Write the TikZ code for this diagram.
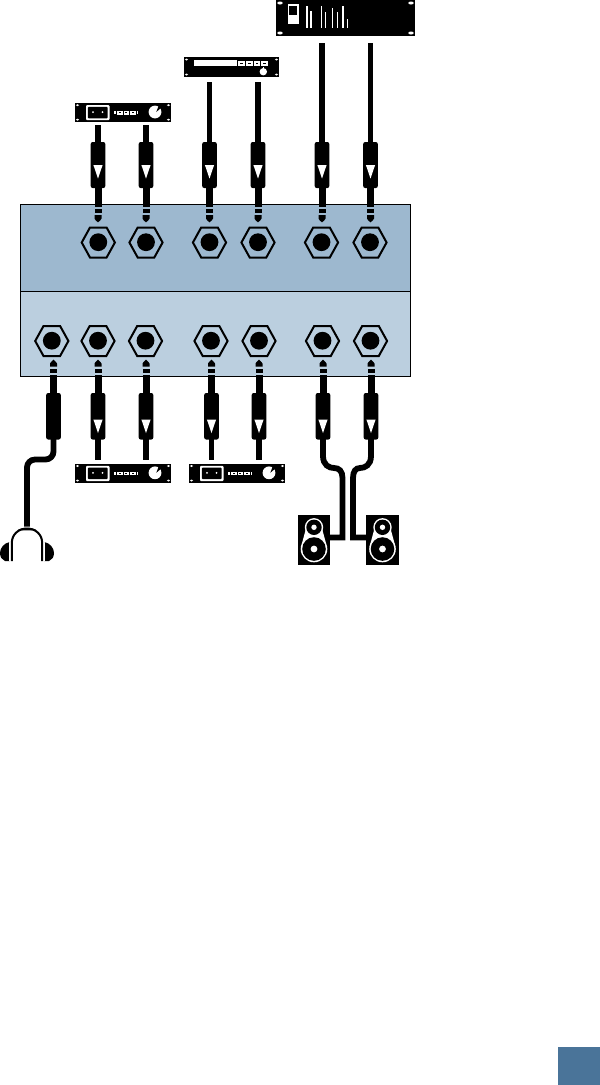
\documentclass[tikz,border=0pt]{standalone}
\definecolor{paneltop}{HTML}{9DB8CF}
\definecolor{panellow}{HTML}{BBCFDF}
\definecolor{tabblue}{HTML}{4A7499}
\tikzset{
  panel/.style={draw=black,line width=1pt},
  cable/.style={draw=black,line width=5.8pt,line cap=butt,line join=miter},
  bodyshape/.style={fill=black,rounded corners=2pt},
  hexshape/.style={draw=black,line width=2pt,line join=miter},
  whitefill/.style={fill=white},
  blackfill/.style={fill=black},
}
% jack: name, x, y
\newcommand{\jackat}[3]{%
  \coordinate (#1) at (#2,#3);
  \begin{scope}[shift={(#1)}]
    \draw[hexshape] (-16.6,0) -- (-8.3,-15) -- (8.3,-15) -- (16.6,0) -- (8.3,15) -- (-8.3,15) -- cycle;
    \fill[blackfill] (0,-0.3) circle (8.9);
  \end{scope}}
% plug going down into a jack; name, x
\newcommand{\plugtop}[2]{%
  \coordinate (#1) at (#2,142);
  \begin{scope}[shift={(#2,0)}]
    \fill[bodyshape] (-7.3,142) rectangle (7.3,188);
    \fill[blackfill] (-3.5,186) rectangle (3.5,207);
    \fill[blackfill] (-3.5,209.3) rectangle (3.5,213.3);
    \fill[blackfill] (-3.5,215.2) -- (3.5,215.2) -- (3.5,218.5) -- (2.2,220.5) -- (0,222.3) -- (-2.2,220.5) -- (-3.5,218.5) -- cycle;
    \fill[whitefill] (-4.6,165) -- (4.6,165) -- (0,178.5) -- cycle;
  \end{scope}}
% plug going up into a jack; name, x
\newcommand{\plugbot}[2]{%
  \coordinate (#1) at (#2,439);
  \begin{scope}[shift={(#2,0)}]
    \fill[bodyshape] (-7.3,393) rectangle (7.3,439.5);
    \fill[blackfill] (-3.5,375) rectangle (3.5,395);
    \fill[blackfill] (-3.5,368.5) rectangle (3.5,372.7);
    \fill[blackfill] (-3.5,366.7) -- (3.5,366.7) -- (3.5,363.5) -- (2.2,361.7) -- (0,359.7) -- (-2.2,361.7) -- (-3.5,363.5) -- cycle;
  \end{scope}}
\newcommand{\plugarrow}[1]{%
  \begin{scope}[shift={(#1,0)}]
    \fill[whitefill] (-4.6,419.5) -- (4.6,419.5) -- (0,433) -- cycle;
  \end{scope}}
\newcommand{\screws}[4]{%
  \fill[whitefill] (#1+2.5,#2+2.5) ellipse (1.6 and 1);
  \fill[whitefill] (#3-2.5,#2+2.5) ellipse (1.6 and 1);
  \fill[whitefill] (#1+2.5,#4-2.5) ellipse (1.6 and 1);
  \fill[whitefill] (#3-2.5,#4-2.5) ellipse (1.6 and 1);}
% small rack unit with socket and knob: name, left x, top y
\newcommand{\rackunit}[3]{%
  \coordinate (#1) at (#2,#3);
  \begin{scope}[shift={(#1)}]
    \fill[blackfill] (0,0) rectangle (96,19.5);
    \screws{0}{0}{96}{19.5}
    \fill[whitefill,rounded corners=1pt] (11,2.3) rectangle (34.5,17.5);
    \fill[blackfill,rounded corners=1pt] (12.8,4.1) rectangle (32.7,15.7);
    \fill[whitefill] (18,9.4) circle (1);
    \fill[whitefill] (27.5,9.4) circle (1);
    \fill[whitefill] (38.8,8.2) rectangle (40.8,11.6);
    \foreach \bx in {42,48.5,55}{
      \fill[whitefill] (\bx,8) rectangle (\bx+5.6,11.8);
      \fill[blackfill] (\bx+1.8,9.3) rectangle (\bx+3.8,10.5);}
    \fill[whitefill] (61.5,8.2) rectangle (63.3,11.6);
    \fill[whitefill] (80,9.3) circle (6.4);
    \fill[blackfill] (81.3,9.3) -- (83.5,3.4) -- (85.8,5.4) -- cycle;
  \end{scope}}
\newcommand{\speakerat}[2]{%
  \coordinate (#1) at (#2,514.5);
  \begin{scope}[shift={(#2,0)}]
    \fill[blackfill] (-16.3,514.5) rectangle (16.3,565);
    \fill[whitefill] (0,527.3) circle (9.2);
    \fill[whitefill] (0,549) circle (13.3);
    \fill[whitefill] (-8.4,530) -- (8.4,530) -- (12.2,544) -- (-12.2,544) -- cycle;
    \fill[blackfill] (0,527.3) circle (7.7);
    \fill[blackfill] (0,549) circle (11.8);
    \fill[whitefill] (0,527.3) circle (2.7);
    \fill[whitefill] (0,549) circle (3.4);
  \end{scope}}
\begin{document}
\begin{tikzpicture}[x=1pt,y=-1pt]
\useasboundingbox (0,0) rectangle (600,1085);
\fill[white] (0,0) rectangle (600,1085);
% panels
\path[panel,fill=paneltop] (20.7,204) rectangle (410,291);
\path[panel,fill=panellow] (20.7,291) rectangle (410,376);
\node[inner sep=0pt,minimum width=42pt,minimum height=38pt,fill=tabblue,anchor=south east] (tab) at (600,1085) {};
% top row jacks
\jackat{jt1}{98.3}{242.5}
\jackat{jt2}{146}{242.5}
\jackat{jt3}{209.5}{242.5}
\jackat{jt4}{258}{242.5}
\jackat{jt5}{321.5}{242.5}
\jackat{jt6}{370}{242.5}
% bottom row jacks
\jackat{jb1}{51.8}{341}
\jackat{jb2}{98}{341}
\jackat{jb3}{145.5}{341}
\jackat{jb4}{211}{341}
\jackat{jb5}{259}{341}
\jackat{jb6}{322.5}{341}
\jackat{jb7}{370.5}{341}
% top plugs
\plugtop{pt1}{98}
\plugtop{pt2}{146}
\plugtop{pt3}{209.5}
\plugtop{pt4}{258}
\plugtop{pt5}{322}
\plugtop{pt6}{370.5}
% bottom plugs
\plugbot{pb1}{53.5}\plugbot{pb2}{98}\plugbot{pb3}{146}\plugbot{pb4}{211.5}\plugbot{pb5}{259}\plugbot{pb6}{323}\plugbot{pb7}{371}
\plugarrow{98}\plugarrow{146}\plugarrow{211.5}\plugarrow{259}\plugarrow{323}\plugarrow{371}
% devices
\rackunit{du1}{75}{102.7}
\rackunit{dl1}{75}{463.5}
\rackunit{dl2}{189}{463.5}
% mid device
\coordinate (dm) at (184,57);
\begin{scope}[shift={(dm)}]
  \fill[blackfill] (0,0) rectangle (95,20);
  \screws{0}{0}{95}{20}
  \fill[whitefill] (9.5,2.8) rectangle (52.5,9.2);
  \foreach \bx in {54,61.8,69.6,77.4}{
    \fill[whitefill] (\bx,4) rectangle (\bx+6.8,8.8);
    \fill[blackfill] (\bx+2,5.7) rectangle (\bx+4.8,7.2);}
  \fill[whitefill] (79.3,14.7) circle (3.7);
  \fill[whitefill] (78.9,10) rectangle (79.9,11.5);
\end{scope}
% large device
\coordinate (dl) at (276,0);
\begin{scope}[shift={(dl)}]
  \fill[blackfill] (0,0) rectangle (139,36);
  \foreach \sx in {4,135}{\foreach \sy in {3,33}{
    \fill[whitefill] (\sx,\sy) ellipse (2.7 and 1.5);}}
  \fill[whitefill] (11.5,3.5) rectangle (23,24);
  \fill[blackfill] (13.2,5.7) rectangle (20.8,15);
  \fill[whitefill] (30,6) rectangle (32,28);
  \fill[whitefill] (34.3,11) rectangle (36,28);
  \fill[whitefill] (44.7,6) rectangle (46,28);
  \fill[whitefill] (49,12) rectangle (50.2,28);
  \fill[whitefill] (56,8) rectangle (57.4,28);
  \fill[whitefill] (60.5,12) rectangle (61.8,28);
  \fill[whitefill] (66,6) rectangle (68,28);
  \fill[whitefill] (71,19) rectangle (72,28);
\end{scope}
% cables to devices, top
\coordinate (cu1) at (98,125);\coordinate (cu2) at (146,125);
\coordinate (cm1) at (209.5,82);\coordinate (cm2) at (258,82);
\coordinate (cl1) at (322,43);\coordinate (cl2) at (370.5,43);
\draw[cable] (cu1) -- (pt1);\draw[cable] (cu2) -- (pt2);
\draw[cable] (cm1) -- (pt3);\draw[cable] (cm2) -- (pt4);
\draw[cable] (cl1) -- (pt5);\draw[cable] (cl2) -- (pt6);
% cables bottom, to rack units
\coordinate (cb2) at (98,460);\coordinate (cb3) at (146,460);
\coordinate (cb4) at (211.5,460);\coordinate (cb5) at (259,460);
\draw[cable] (pb2) -- (cb2);\draw[cable] (pb3) -- (cb3);
\draw[cable] (pb4) -- (cb4);\draw[cable] (pb5) -- (cb5);
% speakers
\speakerat{spl}{314}
\speakerat{spr}{382.5}
\draw[cable] (pb6) -- (323,456) .. controls (323,465) and (329,468) .. (334,468) .. controls (339,468) and (342.5,471) .. (342.5,478) -- (342.5,537.5) -- (330,537.5);
\draw[cable] (pb7) -- (371,456) .. controls (371,465) and (365,468) .. (360,468) .. controls (356,468) and (353,471) .. (353,478) -- (353,537.5) -- (366.5,537.5);
% headphones
\coordinate (hp) at (27,527);
\draw[cable,rounded corners=8pt] (pb1) -- (53.5,459.5) -- (27,459.5) -- (hp);
\begin{scope}[shift={(hp)}]
  % ear cups
  \fill[blackfill] (-17.2,34) -- (-17.2,15) .. controls (-23,16) and (-27,21) .. (-27,26) .. controls (-27,30) and (-25,33) .. (-22,34) -- cycle;
  \fill[blackfill] (17.2,34) -- (17.2,15) .. controls (23,16) and (27,21) .. (27,26) .. controls (27,30) and (25,33) .. (22,34) -- cycle;
  % headband
  \draw[white,line width=4pt] (-15.8,34) -- (-15.8,16) .. controls (-15.8,7) and (-8,1.5) .. (0,1.5) .. controls (8,1.5) and (15.8,7) .. (15.8,16) -- (15.8,34);
  \draw[black,line width=2pt] (-15.2,34) -- (-15.2,16) .. controls (-15.2,7) and (-8,1.5) .. (0,1.5) .. controls (8,1.5) and (15.2,7) .. (15.2,16) -- (15.2,34);
  \fill[blackfill] (-10,3.5) .. controls (-6,0) and (6,0) .. (10,3.5) .. controls (5,3.2) and (-5,3.2) .. (-10,3.5) -- cycle;
\end{scope}
\end{tikzpicture}
\end{document}
